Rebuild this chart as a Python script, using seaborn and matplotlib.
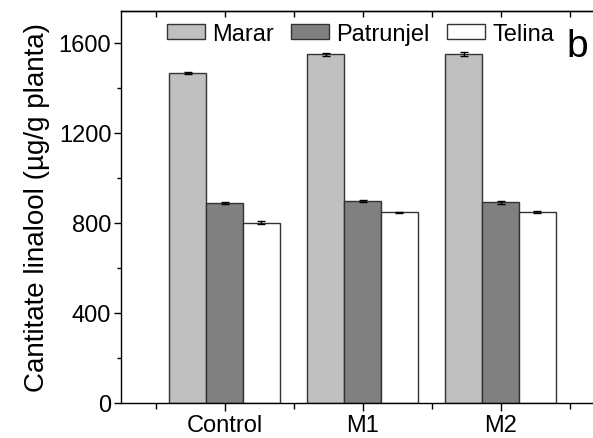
import numpy as np
import pandas as pd
import matplotlib
matplotlib.use("Agg")
import matplotlib.pyplot as plt
from matplotlib.ticker import MultipleLocator, FixedLocator
import seaborn as sns

categories = ["Control", "M1", "M2"]
species = ["Marar", "Patrunjel", "Telina"]
marar = [1468, 1549, 1553]
patrunjel = [890, 897, 891]
telina = [802, 847, 849]
err_marar = [4, 6, 9]
err_patrunjel = [5, 5, 5]
err_telina = [5, 4, 3]

sns.set_theme(style="ticks")
plt.rcParams['font.family'] = ['Liberation Sans', 'DejaVu Sans']
plt.rcParams['text.color'] = 'black'
plt.rcParams['axes.labelcolor'] = 'black'
plt.rcParams['xtick.color'] = 'black'
plt.rcParams['ytick.color'] = 'black'

rows = []
for sp, vals, errs in zip(species, [marar, patrunjel, telina], [err_marar, err_patrunjel, err_telina]):
    for c, v, e in zip(categories, vals, errs):
        rows.append({"cat": c, "species": sp, "val": v, "err": e})
df = pd.DataFrame(rows)

W, H = 593, 439
fig = plt.figure(figsize=(W / 100, H / 100), dpi=100)
ax = fig.add_axes([121 / W, 1 - 404 / H, (604 - 121) / W, (404 - 12) / H])

palette = {"Marar": "#c0c0c0", "Patrunjel": "#808080", "Telina": "#ffffff"}
sns.barplot(data=df, x="cat", y="val", hue="species", order=categories,
            hue_order=species, palette=palette, errorbar=None, width=0.8,
            edgecolor="#333333", linewidth=1.0, saturation=1, ax=ax, legend=True)

# error bars at the bar centres from the library's patches
for cont, sp in zip(ax.containers, species):
    sub = df[df.species == sp].set_index("cat").loc[categories]
    xs = [p.get_x() + p.get_width() / 2 for p in cont.patches]
    ax.errorbar(xs, sub["val"].values, yerr=sub["err"].values, fmt="none",
                ecolor="black", elinewidth=1.0, capsize=3, capthick=1.0, zorder=5)

ax.set_xlim(-0.75, 2.75)
ax.set_ylim(0, 1742)
ax.yaxis.set_major_locator(MultipleLocator(400))
ax.yaxis.set_minor_locator(MultipleLocator(200))
ax.xaxis.set_minor_locator(FixedLocator([-0.5, 0.5, 1.5, 2.5]))
ax.set_xlabel("")
ax.set_ylabel("Cantitate linalool (\u00b5g/g planta)", fontsize=20, labelpad=6, color="black")

for s in ax.spines.values():
    s.set_linewidth(1.0)
    s.set_color("black")

ax.tick_params(axis="x", which="major", direction="out", length=6, width=1,
               labelsize=17, pad=2, color="black", labelcolor="black")
ax.tick_params(axis="x", which="minor", direction="out", length=4, width=1, color="black")
ax.tick_params(axis="y", which="major", direction="out", length=5, width=1,
               labelsize=17, pad=2, color="black", labelcolor="black")
ax.tick_params(axis="y", which="minor", direction="out", length=3, width=1, color="black")

top = ax.secondary_xaxis("top")
top.set_xticks([-0.5, 0, 0.5, 1, 1.5, 2, 2.5])
top.tick_params(direction="in", length=4, width=1, labeltop=False, color="black")
top.spines["top"].set_linewidth(1.0)

ax.get_legend().remove()
handles = [plt.Rectangle((0, 0), 1, 1, facecolor=palette[s], edgecolor="#333333", linewidth=1.0)
           for s in species]
fig.legend(handles, species, loc="center left", bbox_to_anchor=(167 / W, 1 - 35 / H),
           ncol=3, frameon=False, fontsize=17, handlelength=1.6, handleheight=0.62,
           handletextpad=0.3, columnspacing=0.75, borderpad=0, borderaxespad=0,
           labelcolor="black")

fig.text(577 / W, 1 - 47 / H, "b", fontsize=28, ha="center", va="center", color="black")

fig.savefig("out.png", dpi=100)
